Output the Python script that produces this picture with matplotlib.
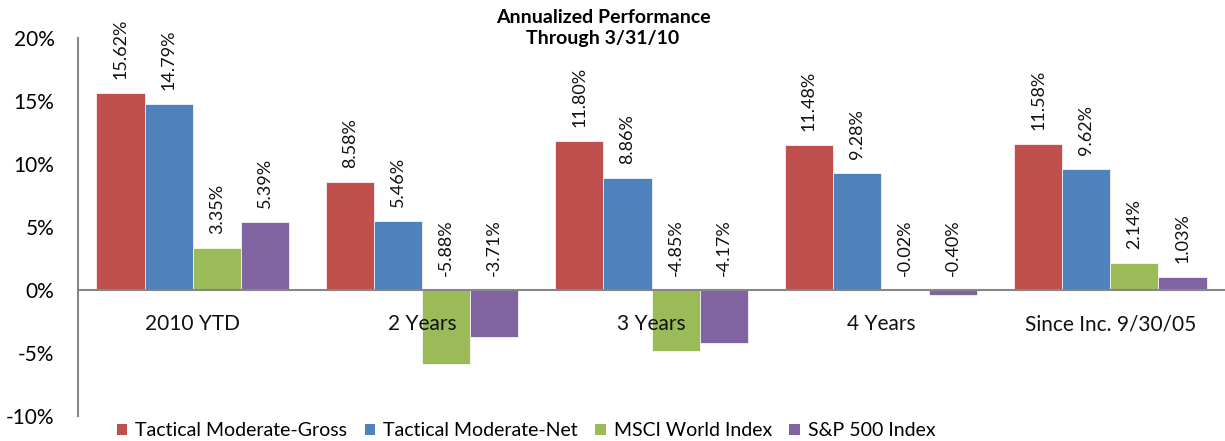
import matplotlib
matplotlib.use("Agg")
import matplotlib.pyplot as plt
import numpy as np
from matplotlib.patches import Patch

categories = ["2010 YTD", "2 Years", "3 Years", "4 Years", "Since Inc. 9/30/05"]
series_names = ["Tactical Moderate-Gross", "Tactical Moderate-Net", "MSCI World Index", "S&P 500 Index"]
gross = [15.62, 8.58, 11.80, 11.48, 11.58]
net = [14.79, 5.46, 8.86, 9.28, 9.62]
msci = [3.35, -5.88, -4.85, -0.02, 2.14]
sp500 = [5.39, -3.71, -4.17, -0.40, 1.03]
yticks = [-10, -5, 0, 5, 10, 15, 20]
colors = ["#C0504D", "#4F81BD", "#9BBB59", "#8064A2"]

plt.rcParams['font.family'] = ['Lato', 'DejaVu Sans']

fig = plt.figure(figsize=(12.25, 4.41), dpi=100)
ax = fig.add_axes([78/1225, 1-416/441, (1225-78)/1225, (416-38)/441])

all_series = [gross, net, msci, sp500]
x = np.arange(len(categories))
bw = 0.21
for i, (vals, c) in enumerate(zip(all_series, colors)):
    pos = x + (i - 1.5) * bw
    ax.bar(pos, vals, width=bw, color=c, edgecolor='white', linewidth=0.5, zorder=2)
    for px, v in zip(pos, vals):
        ax.annotate(f"{v:.2f}%", xy=(px, max(v, 0)), xytext=(0, 10), textcoords='offset points',
                    rotation=90, ha='center', va='bottom', fontsize=13, color='#111111')

ax.set_xlim(-0.5, len(categories) - 0.5)
ax.set_ylim(-10, 20)
ax.set_yticks(yticks)
ax.set_yticklabels([f"{t}%" for t in yticks], fontsize=15)
ax.tick_params(axis='y', length=0, pad=17)
ax.set_xticks([])

for s in ['top', 'right', 'bottom']:
    ax.spines[s].set_visible(False)
ax.spines['left'].set_color('#868686')
ax.spines['left'].set_linewidth(1.5)
ax.axhline(0, color='#868686', linewidth=1.5, zorder=3)

for xi, cat in zip(x, categories):
    ax.text(xi, -2.7, cat, ha='center', va='center', fontsize=15, color='#111111', zorder=4)

fig.text(603/1225, 1-28/441, "Annualized Performance\nThrough 3/31/10", ha='center', va='center',
         fontsize=14, fontweight='bold', linespacing=1.3)

handles = [Patch(facecolor=c, edgecolor='none') for c in colors]
fig.legend(handles, series_names, loc='center', bbox_to_anchor=(526/1225, 1-431/441), ncol=4,
           frameon=False, fontsize=14, handlelength=0.55, handleheight=0.55, handletextpad=0.4,
           columnspacing=0.9, borderpad=0)

fig.savefig("out.png", dpi=100)
